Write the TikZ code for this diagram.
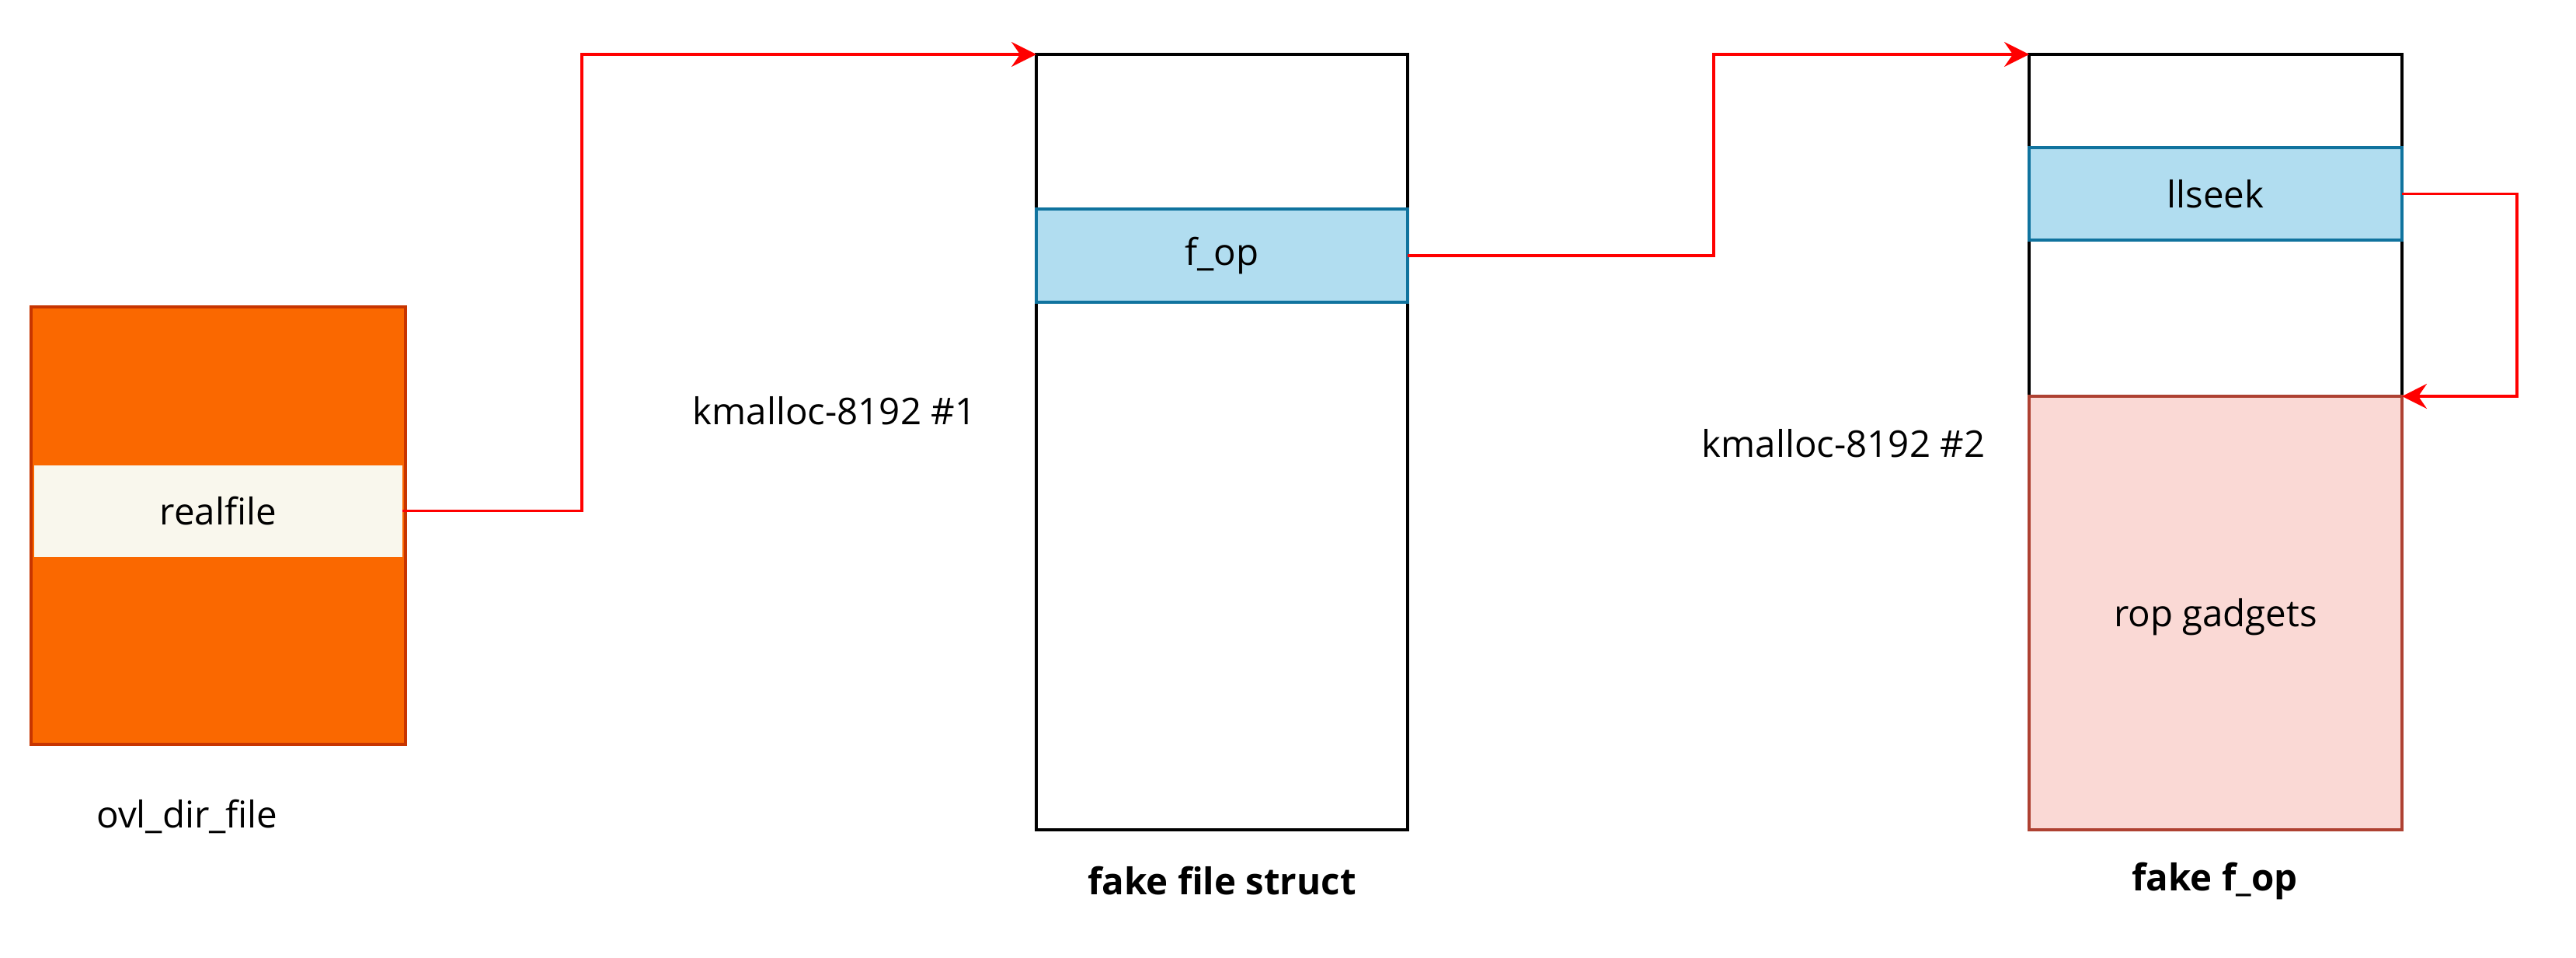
\documentclass[tikz,border=0pt]{standalone}
\usepackage{fontspec}
\setmainfont{Open Sans}
\usetikzlibrary{arrows.meta}

\definecolor{orangefill}{HTML}{FA6800}
\definecolor{orangeline}{HTML}{C73500}
\definecolor{creamfill}{HTML}{F9F7ED}
\definecolor{bluefill}{HTML}{B1DDF0}
\definecolor{blueline}{HTML}{10739E}
\definecolor{pinkfill}{HTML}{FAD9D5}
\definecolor{pinkline}{HTML}{AE4132}
\definecolor{ptrred}{HTML}{FF0000}

\begin{document}
\begin{tikzpicture}[
  font=\fontsize{13.5}{16}\selectfont,
  cell/.style={rectangle, inner sep=0pt, outer sep=0pt, anchor=north west, line width=0.9pt},
  slab/.style={cell, draw=black, fill=white},
  field/.style={cell, draw=blueline, fill=bluefill},
  ptr/.style={draw=ptrred, line width=0.9pt,
    -{Stealth[length=3.2mm, width=3.2mm, inset=1.1mm]}},
  caption/.style={inner sep=0pt},
]
\useasboundingbox (0,0) rectangle (33.16,-12.32);

% ovl_dir_file object with its realfile member
\node[cell, draw=orangeline, fill=orangefill, minimum width=4.82cm, minimum height=5.63cm] (ovl) at (0.40,-3.95) {};
\node[cell, fill=creamfill, minimum width=4.74cm, minimum height=1.18cm, anchor=west] (realfile) at (0.44,-6.575) {};
\node at (realfile.center) {realfile};
\node[caption] (ovllbl) at (2.41,-10.51) {ovl\_dir\_file};

% first kmalloc-8192 chunk: fake file struct
\node[slab, minimum width=4.78cm, minimum height=9.98cm] (fakefile) at (13.34,-0.70) {};
\node[field, minimum width=4.78cm, minimum height=1.20cm] (fop) at (13.34,-2.69) {};
\node at (fop.center) {f\_op};
\node[caption] (km1) at (10.74,-5.29) {kmalloc-8192 \#1};
\node[caption, font=\fontsize{13.5}{16}\selectfont\bfseries] (fakefilelbl) at (15.73,-11.34) {fake file struct};

% second kmalloc-8192 chunk: fake f_op table
\node[slab, minimum width=4.80cm, minimum height=9.98cm] (fakefop) at (26.12,-0.70) {};
\node[field, minimum width=4.80cm, minimum height=1.19cm] (llseek) at (26.12,-1.90) {};
\node at (llseek.center) {llseek};
\node[cell, draw=pinkline, fill=pinkfill, minimum width=4.80cm, minimum height=5.58cm] (rop) at (26.12,-5.10) {};
\node at ([yshift=-0.05cm]rop.center) {rop gadgets};
\node[caption] (km2) at (23.73,-5.71) {kmalloc-8192 \#2};
\node[caption, font=\fontsize{13.5}{16}\selectfont\bfseries] (fakefoplbl) at (28.51,-11.34) {fake f\_op};

% pointer bends
\coordinate (bendA) at (7.49,-0.70);
\coordinate (bendB) at (22.06,-0.70);
\coordinate (bendC) at (32.40,-5.10);

% pointers
\draw[ptr] (realfile.east) -| (bendA) -- (fakefile.north west);
\draw[ptr] (fop.east) -| (bendB) -- (fakefop.north west);
\draw[ptr] (llseek.east) -| (bendC) -- (rop.north east);
\end{tikzpicture}
\end{document}
